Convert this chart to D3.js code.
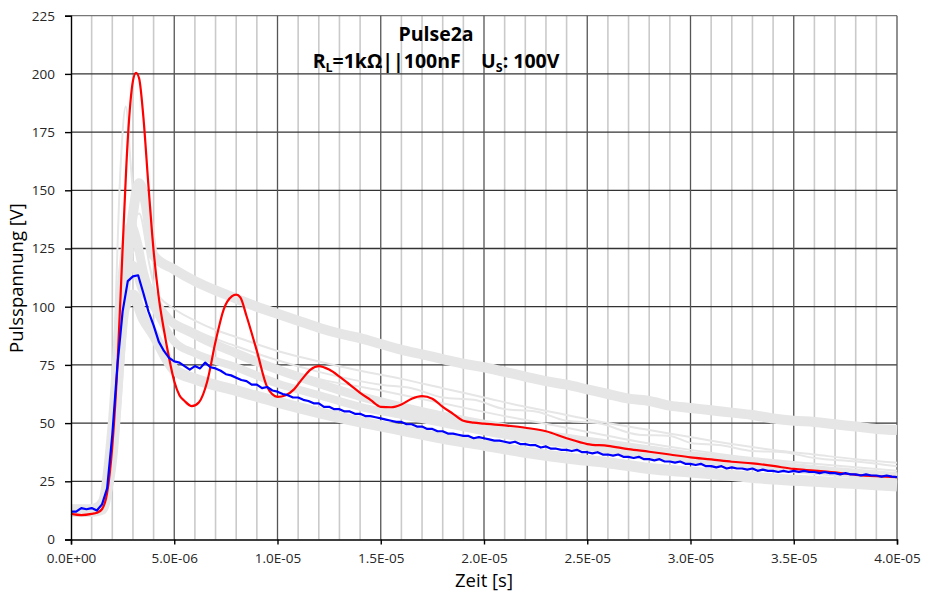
<!DOCTYPE html>
<html lang="de">
<head>
<meta charset="UTF-8">
<title>Pulse2a</title>
<script src="https://d3js.org/d3.v7.min.js"></script>
<style>
    body { margin: 0; background: #fff; }
    svg { display: block; font-family: "Open Sans", Arial, sans-serif; }
</style>
</head>
<body>
<svg id="chart" width="925" height="598"></svg>
<script>
// axis ticks
const xTicks = [0, 5, 10, 15, 20, 25, 30, 35, 40];           // µs
const xTickLabels = ["0.0E+00", "5.0E-06", "1.0E-05", "1.5E-05", "2.0E-05",
                     "2.5E-05", "3.0E-05", "3.5E-05", "4.0E-05"];
const yTicks = [0, 25, 50, 75, 100, 125, 150, 175, 200, 225];

// red trace (µs / V)
const redT = [0, 0.5, 1.0, 1.25, 1.5, 1.75, 2.0, 2.25, 2.5, 2.75, 3.0, 3.15, 3.3, 3.5, 3.75,
    4.0, 4.25, 4.5, 4.75, 5.0, 5.25, 5.5, 5.85, 6.2, 6.6, 7.0, 7.4, 7.8, 8.0, 8.2, 8.5, 9.0,
    9.5, 10.0, 10.4, 10.8, 11.2, 11.6, 12.0, 12.5, 13.0, 13.5, 14.0, 14.5, 15.0, 15.5, 16.0,
    16.5, 17.0, 17.5, 18.0, 18.5, 19.0, 19.5, 20, 21, 22, 23, 24, 25, 26, 27, 28, 29, 30,
    31, 32, 33, 34, 35, 36, 37, 38, 39, 40];
const redV = [11, 10.5, 11, 11.5, 13, 20, 40, 75, 125, 172, 197, 200.5, 198, 182, 152,
    124, 104, 90, 78, 68, 62, 59.5, 57.3, 59, 68, 85, 99, 104.5, 105.2, 104, 96, 81,
    65.5, 61.3, 62, 64.5, 69, 73, 74.5, 73, 70, 66.5, 63, 60, 57, 56.8, 58,
    60.5, 61.6, 60.5, 57, 54, 51, 50.2, 49.8, 49, 48, 46.5, 43.5, 41, 40.2, 38.8, 37.7, 36.5, 35.3,
    34.4, 33.4, 32.7, 31.6, 30.3, 29.6, 28.8, 27.8, 27.2, 26.8];

// blue trace, one sample every 0.25 µs
const blueStep = 0.25;
const blueV = [12, 12, 13.5, 13, 13.5, 12.5, 15, 22, 45, 75, 98, 111, 113, 113.5, 106, 98,
    92, 85, 81, 78, 76.5, 76, 74.5, 73, 74.5, 73.5, 76, 74, 73.5, 72.5, 71, 70.5,
    69.5, 68.5, 68, 66.5, 66.5, 65, 65.5, 64, 63.5, 62.5, 62, 61, 61, 60, 59.5, 58.5,
    58.5, 57, 57, 56, 56, 55, 55, 54, 54, 53, 53, 52.5, 52, 51.5, 51, 50.5,
    50.5, 49.5, 49.5, 48.5, 48.5, 47.5, 47.5, 46.5, 46.5, 45.5, 45.5, 45, 44.5, 44.5, 43.5, 44,
    43.5, 43, 42.5, 42.5, 42, 41.5, 42, 41, 41, 40.5, 40.5, 39.5, 40, 39, 39, 38.5,
    38.5, 38, 38.5, 37.5, 37.5, 37, 37.5, 36.5, 36.5, 36, 36.5, 35.5, 35.5, 35, 35.5, 34.5,
    34.5, 34, 34.5, 33.5, 33.5, 33, 33.5, 32.5, 32.5, 32, 32.5, 31.5, 31.5, 31, 31.5, 30.5,
    31, 30.5, 30.5, 30, 30.5, 29.5, 30, 29.5, 29.5, 29, 29.5, 29, 29.5, 29, 29.5, 29,
    29, 28.5, 29, 28.5, 28.5, 28, 28.5, 28, 28, 27.5, 28, 27.5, 27.5, 27, 27.5, 27, 26.8];

// grey background traces (µs / V)
const greyUpperT = [0, 0.5, 1, 1.5, 2, 2.5, 3, 3.3, 3.6, 4, 5, 6, 7, 8, 9, 10, 11, 12, 13, 14,
    15, 16, 17, 18, 19, 20, 21, 22, 23, 24, 25, 26, 27, 28, 29, 30, 31, 32, 33, 34, 35, 36,
    37, 38, 39, 40];
const greyUpperV = [13, 13, 13, 15, 35, 95, 140, 153, 145, 122, 116, 111, 107, 103.5, 100, 97,
    94, 91, 88.5, 86.5, 84, 81.5, 79.5, 77.5, 75.5, 74, 72, 70, 68, 66.5, 64.5, 62.5, 60.5,
    59.5, 57.5, 56.5, 55.5, 54.5, 53.5, 52, 51, 50.5, 49.5, 48.5, 47.5, 47];

const greyThin1T = [0, 1, 1.5, 2.0, 2.4, 2.65, 2.9, 3.2, 3.6, 4.3, 5, 6, 7, 8, 10, 12, 14, 16,
    18, 20, 22, 24, 26, 28, 30, 32, 34, 36, 38, 40];
const greyThin1V = [14, 14, 16, 60, 160, 186, 160, 130, 115, 104, 99, 94, 90, 87, 81, 76.5,
    72.5, 69, 65, 61, 57, 53.5, 50, 47, 44, 41, 38.5, 36.5, 34.5, 33];

const greyThin2T = [0, 1, 1.5, 2, 2.6, 3.3, 3.8, 4.3, 6, 8, 10, 12, 15, 16.5, 18, 19.5, 21, 22.5,
    24, 25.5, 27.5, 29, 30, 31.5, 33, 34.5, 36, 38, 40];
const greyThin2V = [13, 13, 15, 45, 120, 140, 118, 100, 90, 83, 77, 72, 66.5, 65, 61, 60, 56,
    55, 51, 50, 45, 44.5, 41.5, 40.5, 38, 37.5, 35, 33.5, 31.5];

const greyThin3T = [0, 1, 1.5, 2, 2.6, 3.2, 3.8, 4.5, 6, 8, 10, 12, 15, 18, 21, 24, 27.5, 30,
    33, 36, 40];
const greyThin3V = [12, 12, 14, 40, 110, 125, 105, 95, 88, 80, 74, 69, 64, 58.5, 53, 48, 42,
    38.5, 35, 32.5, 29.5];

const greyMidAT = [0, 1, 1.5, 2, 2.5, 2.9, 3.2, 3.5, 4.5, 6, 8, 10, 12, 14, 16, 18, 20, 22, 24,
    26, 28, 30, 32, 34, 36, 38, 40];
const greyMidAV = [13, 13, 16, 50, 115, 135, 128, 115, 97, 88, 80, 73, 67, 61.5, 57, 53, 49.5,
    46.5, 43.5, 41, 38.5, 36, 34, 32, 30, 28.5, 27];

const greyMidBT = [0, 1, 1.5, 2, 2.6, 3.0, 3.4, 4, 5, 6, 8, 10, 12, 14, 16, 18, 20, 24, 28, 32,
    36, 40];
const greyMidBV = [12, 12, 14, 45, 110, 118, 108, 100, 85, 80, 74, 67, 62, 57, 53.5, 50, 46.5,
    41, 36.5, 32.5, 29.5, 26.5];

const greyLowT = [0, 1, 1.5, 2, 2.6, 3.0, 3.5, 4, 5, 6, 8, 10, 12, 14, 16, 18, 20, 22, 24, 26,
    28, 30, 32, 34, 36, 38, 40];
const greyLowV = [12, 12, 13, 40, 100, 105, 95, 88, 73, 69, 64, 59, 54.5, 50.5, 47, 43.5, 40.5,
    37.5, 35, 33, 30.5, 29, 27.5, 26, 25, 24, 23];

const W = 925, H = 598;
const margin = { left: 71, right: 28, top: 15.7, bottom: 58.5 };

const svg = d3.select("#chart");

const x = d3.scaleLinear().domain([0, 40]).range([margin.left, W - margin.right]);
const y = d3.scaleLinear().domain([0, 225]).range([H - margin.bottom, margin.top]);

// grid: minor verticals every 1 µs
const grid = svg.append("g");
grid.selectAll("line.minor")
    .data(d3.range(1, 40).filter(d => d % 5 !== 0))
    .enter().append("line")
    .attr("x1", d => x(d)).attr("x2", d => x(d))
    .attr("y1", y(0)).attr("y2", y(225))
    .attr("stroke", "#cacaca").attr("stroke-width", 1.6);

grid.selectAll("line.hor")
    .data(yTicks.slice(1))
    .enter().append("line")
    .attr("x1", x(0)).attr("x2", x(40))
    .attr("y1", d => y(d)).attr("y2", d => y(d))
    .attr("stroke", d => d === 225 ? "#777" : "#333").attr("stroke-width", 1.3);

grid.selectAll("line.major")
    .data(xTicks.slice(1))
    .enter().append("line")
    .attr("x1", d => x(d)).attr("x2", d => x(d))
    .attr("y1", y(0)).attr("y2", y(225))
    .attr("stroke", "#555").attr("stroke-width", 1.3);

// traces
const lineSmooth = d3.line().x(d => x(d[0])).y(d => y(d[1])).curve(d3.curveMonotoneX);
const lineRaw = d3.line().x(d => x(d[0])).y(d => y(d[1]));

const greys = [
    { t: greyLowT, v: greyLowV, w: 11 },
    { t: greyMidBT, v: greyMidBV, w: 8 },
    { t: greyMidAT, v: greyMidAV, w: 9 },
    { t: greyThin3T, v: greyThin3V, w: 2 },
    { t: greyThin2T, v: greyThin2V, w: 2 },
    { t: greyThin1T, v: greyThin1V, w: 2 },
    { t: greyUpperT, v: greyUpperV, w: 10 }
];

svg.append("g").selectAll("path")
    .data(greys)
    .enter().append("path")
    .attr("d", g => lineSmooth(g.t.map((t, i) => [t, g.v[i]])))
    .attr("fill", "none")
    .attr("stroke", "#e6e6e6")
    .attr("stroke-width", g => g.w)
    .attr("stroke-linejoin", "round");

svg.append("path")
    .attr("d", lineSmooth(redT.map((t, i) => [t, redV[i]])))
    .attr("fill", "none").attr("stroke", "#ff0000").attr("stroke-width", 2.2);

svg.append("path")
    .attr("d", lineRaw(blueV.map((v, i) => [i * blueStep, v])))
    .attr("fill", "none").attr("stroke", "#0000ff").attr("stroke-width", 2.2)
    .attr("stroke-linejoin", "round");

// axes
const xAxis = svg.append("g").attr("transform", `translate(0,${y(0)})`)
    .call(d3.axisBottom(x).tickValues(xTicks).tickSize(5).tickPadding(9)
        .tickFormat((d, i) => xTickLabels[i]));
const yAxis = svg.append("g").attr("transform", `translate(${x(0)},0)`)
    .call(d3.axisLeft(y).tickValues(yTicks).tickSize(6).tickPadding(10));

[xAxis, yAxis].forEach(a => {
    a.select(".domain").attr("stroke", "#000").attr("stroke-width", 1.4);
    a.selectAll(".tick line").attr("stroke", "#000").attr("stroke-width", 1.4);
    a.selectAll(".tick text").attr("font-size", 13.5).attr("fill", "#262626")
        .attr("font-family", "'Open Sans', Arial, sans-serif");
});

// titles
svg.append("text").attr("x", 436).attr("y", 41).attr("text-anchor", "middle")
    .attr("font-size", 19.5).attr("font-weight", "bold").attr("fill", "#000")
    .text("Pulse2a");

const sub = svg.append("text").attr("x", 436).attr("y", 68).attr("text-anchor", "middle")
    .attr("font-size", 19.5).attr("font-weight", "bold").attr("fill", "#000");
sub.append("tspan").text("R");
sub.append("tspan").attr("font-size", 12.5).attr("dy", 4).text("L");
sub.append("tspan").attr("dy", -4).text("=1kΩ||100nF\u00a0\u00a0\u00a0\u00a0U");
sub.append("tspan").attr("font-size", 12.5).attr("dy", 4).text("S");
sub.append("tspan").attr("dy", -4).text(": 100V");

svg.append("text").attr("x", 484).attr("y", 587).attr("text-anchor", "middle")
    .attr("font-size", 18.5).attr("fill", "#000").text("Zeit [s]");

svg.append("text").attr("transform", "translate(23,278) rotate(-90)")
    .attr("text-anchor", "middle")
    .attr("font-size", 18.5).attr("fill", "#000").text("Pulsspannung [V]");
</script>
</body>
</html>
